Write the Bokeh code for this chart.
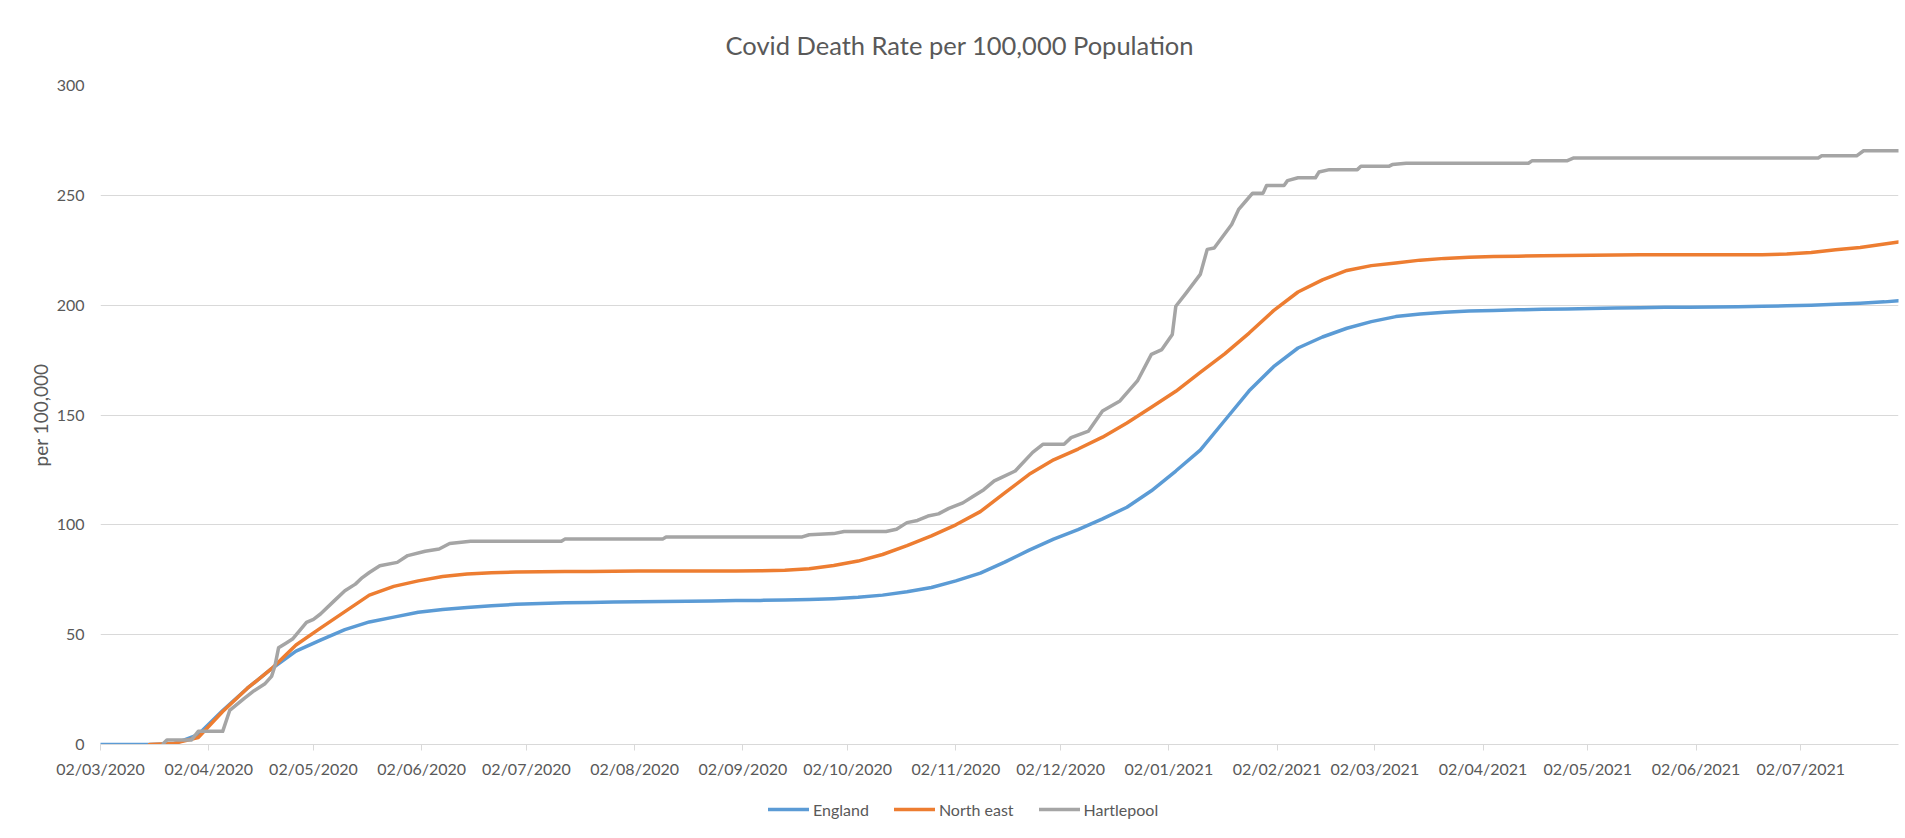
import pandas as pd
from bokeh.plotting import figure
from bokeh.layouts import column
from bokeh.models import (Range1d, FixedTicker, DatetimeTickFormatter, Legend,
                          LegendItem, ColumnDataSource)
from bokeh.embed import file_html
from bokeh.resources import INLINE

# ---------------- data ----------------
START = "2020-03-02"
END = "2021-07-30"

tick_dates = ["2020-03-02", "2020-04-02", "2020-05-02", "2020-06-02", "2020-07-02",
              "2020-08-02", "2020-09-02", "2020-10-02", "2020-11-02", "2020-12-02",
              "2021-01-02", "2021-02-02", "2021-03-02", "2021-04-02", "2021-05-02",
              "2021-06-02", "2021-07-02"]
y_ticks = [0, 50, 100, 150, 200, 250, 300]

# day offsets from START (weekly samples)
england_days = [0, 7, 14, 21, 28, 35, 42, 49, 56, 63,
                70, 77, 84, 91, 98, 105, 112, 119, 126, 133,
                140, 147, 154, 161, 168, 175, 182, 189, 196, 203,
                210, 217, 224, 231, 238, 245, 252, 259, 266, 273,
                280, 287, 294, 301, 308, 315, 322, 329, 336, 343,
                350, 357, 364, 371, 378, 385, 392, 399, 406, 413,
                420, 427, 434, 441, 448, 455, 462, 469, 476, 483,
                490, 497, 504, 511, 515]
england = [0, 0, 0, 0.3, 4.5, 15.5, 25.5, 34.5, 42.5, 47.5,
           52.3, 55.8, 58, 60.2, 61.5, 62.4, 63.2, 63.8, 64.2, 64.5,
           64.7, 64.9, 65, 65.1, 65.2, 65.3, 65.5, 65.6, 65.8, 66,
           66.4, 67, 68, 69.5, 71.5, 74.5, 78, 83, 88.5, 93.5,
           97.8, 102.7, 108, 115.5, 124.5, 134, 147.5, 161, 172, 180.5,
           185.5, 189.5, 192.5, 194.8, 196, 196.8, 197.3, 197.6, 197.9, 198.1,
           198.3, 198.5, 198.7, 198.8, 199, 199.1, 199.2, 199.3, 199.5, 199.7,
           200, 200.4, 200.9, 201.5, 202]

north_east_days = [14, 21, 28, 35, 42, 49, 56, 63, 70, 77,
                   84, 91, 98, 105, 112, 119, 126, 133, 140, 147,
                   154, 161, 168, 175, 182, 189, 196, 203, 210, 217,
                   224, 231, 238, 245, 252, 259, 266, 273, 280, 287,
                   294, 301, 308, 315, 322, 329, 336, 343, 350, 357,
                   364, 371, 378, 385, 392, 399, 406, 413, 420, 427,
                   434, 441, 448, 455, 462, 469, 476, 483, 490, 497,
                   504, 511, 515]
north_east = [0, 0.5, 3.2, 15, 25.5, 34.5, 45.3, 53, 60.5, 68,
              72, 74.5, 76.5, 77.6, 78.2, 78.5, 78.6, 78.7, 78.8, 78.9,
              79, 79, 79, 79, 79, 79.1, 79.3, 80, 81.5, 83.5,
              86.5, 90.5, 95, 100, 106, 114.5, 123, 129.6, 134.5, 139.9,
              146.4, 153.5, 160.8, 169.4, 177.8, 187.3, 197.5, 206, 211.5, 215.8,
              218, 219.2, 220.5, 221.3, 221.8, 222.1, 222.3, 222.5, 222.6, 222.7,
              222.8, 222.9, 223, 223, 223, 223, 223, 223.3, 224, 225.2,
              226.3, 227.8, 228.8]

hartlepool_days = [18, 19, 26, 28, 35, 37, 41, 44, 47, 49,
                   50, 51, 53, 55, 59, 61, 63, 67, 70, 73,
                   75, 77, 80, 85, 88, 93, 97, 100, 106, 132,
                   133, 161, 162, 201, 203, 210, 213, 225, 228, 231,
                   234, 237, 240, 243, 247, 250, 253, 256, 258, 262,
                   267, 270, 276, 278, 283, 287, 292, 297, 301, 304,
                   307, 308, 311, 315, 317, 319, 324, 326, 328, 330,
                   333, 334, 339, 340, 343, 348, 349, 352, 360, 361,
                   369, 370, 374, 409, 410, 420, 422, 492, 493, 503,
                   505, 515]
hartlepool = [0.5, 2, 2, 6, 6, 15.5, 20.8, 24.5, 27.5, 31,
              36, 44, 46, 48, 55.6, 57, 59.4, 65.5, 70, 73,
              76, 78.3, 81.4, 82.9, 86, 88, 89, 91.5, 92.5, 92.5,
              93.5, 93.5, 94.5, 94.5, 95.5, 96, 97, 97, 98, 101,
              102, 104, 105, 107.5, 110, 113, 116, 120, 121.5, 124.5,
              133, 136.7, 136.7, 139.7, 142.7, 151.8, 156.4, 165.5, 177.6, 179.8,
              186.7, 199.5, 205.6, 214, 225.4, 226, 236.7, 243.6, 247.3, 251,
              251, 254.5, 254.5, 256.7, 258, 258, 260.6, 261.7, 261.7, 263.2,
              263.2, 264, 264.6, 264.6, 265.7, 265.7, 267, 267, 268, 268,
              270.3, 270.3]

series_names = ["England", "North east", "Hartlepool"]
series_colors = ["#5B9BD5", "#ED7D31", "#A5A5A5"]

# ---------------- build ----------------
FONT = "Lato"
TEXT = "#595959"
GRID = "#D9D9D9"
LINE_W = 3.5

t0 = pd.Timestamp(START)


def to_dates(days):
    return t0 + pd.to_timedelta(days, unit="D")


p = figure(width=1899, height=790, x_axis_type="datetime",
           output_backend="svg", toolbar_location=None,
           x_range=Range1d(pd.Timestamp(START), pd.Timestamp(END)),
           y_range=Range1d(0, 300),
           min_border_left=100, min_border_right=1,
           min_border_top=85, min_border_bottom=46)

p.outline_line_color = None
p.background_fill_color = "white"
p.border_fill_color = "white"

# title
p.title.text = "Covid Death Rate per 100,000 Population"
p.title.text_font = FONT
p.title.text_font_size = "25.5px"
p.title.text_font_style = "normal"
p.title.text_color = TEXT
p.title.align = "left"
p.title.vertical_align = "middle"
p.title.offset = 625
p.title.standoff = 50

# axes
p.xaxis.ticker = FixedTicker(ticks=[pd.Timestamp(d).value // 10**6 for d in tick_dates])
fmt = "%d/%m/%Y"
p.xaxis.formatter = DatetimeTickFormatter(days=fmt, months=fmt, years=fmt,
                                          hours=fmt, hourmin=fmt, minutes=fmt,
                                          minsec=fmt, seconds=fmt, milliseconds=fmt,
                                          microseconds=fmt)
p.xaxis.axis_line_color = GRID
p.xaxis.major_tick_line_color = GRID
p.xaxis.major_tick_out = 6
p.xaxis.major_tick_in = 0
p.xaxis.minor_tick_line_color = None
p.xaxis.major_label_standoff = 8
p.xaxis.major_label_text_font = FONT
p.xaxis.major_label_text_font_size = "16px"
p.xaxis.major_label_text_color = TEXT

p.yaxis.ticker = FixedTicker(ticks=y_ticks)
p.yaxis.axis_line_color = None
p.yaxis.major_tick_line_color = None
p.yaxis.minor_tick_line_color = None
p.yaxis.major_label_standoff = 10
p.yaxis.major_label_text_font = FONT
p.yaxis.major_label_text_font_size = "16px"
p.yaxis.major_label_text_color = TEXT
p.yaxis.axis_label = "per 100,000"
p.yaxis.axis_label_text_font = FONT
p.yaxis.axis_label_text_font_size = "19px"
p.yaxis.axis_label_text_font_style = "normal"
p.yaxis.axis_label_text_color = TEXT
p.yaxis.axis_label_standoff = 2

p.xgrid.grid_line_color = None
p.ygrid.grid_line_color = GRID
p.ygrid.ticker = FixedTicker(ticks=y_ticks)

# lines
for days, vals, color in [(england_days, england, series_colors[0]),
                          (north_east_days, north_east, series_colors[1]),
                          (hartlepool_days, hartlepool, series_colors[2])]:
    src = ColumnDataSource(dict(x=to_dates(days), y=vals))
    p.line("x", "y", source=src, line_color=color, line_width=LINE_W,
           line_join="round", line_cap="round")

# ---------------- legend strip below the chart ----------------
q = figure(width=1899, height=46, output_backend="svg", toolbar_location=None,
           title=None, x_axis_location=None, y_axis_location=None,
           x_range=Range1d(0, 1), y_range=Range1d(0, 1),
           min_border=0, min_border_left=0, min_border_right=0,
           min_border_top=0, min_border_bottom=0)
q.outline_line_color = None
q.xgrid.visible = False
q.ygrid.visible = False

items = []
for name, color in zip(series_names, series_colors):
    # legend-only renderer: no visible data points
    r = q.line(x=[float("nan")], y=[float("nan")], line_color=color,
               line_width=LINE_W, line_cap="round")
    items.append(LegendItem(label=name, renderers=[r]))

legend = Legend(items=items, orientation="horizontal", location=(668, 17),
                glyph_width=41, glyph_height=20, label_standoff=4, spacing=25,
                padding=5, margin=0, border_line_color=None,
                background_fill_alpha=0,
                label_text_font=FONT, label_text_font_size="16px",
                label_text_color=TEXT)
q.add_layout(legend, "center")

open("out.html", "w").write(file_html(column(p, q), INLINE))
